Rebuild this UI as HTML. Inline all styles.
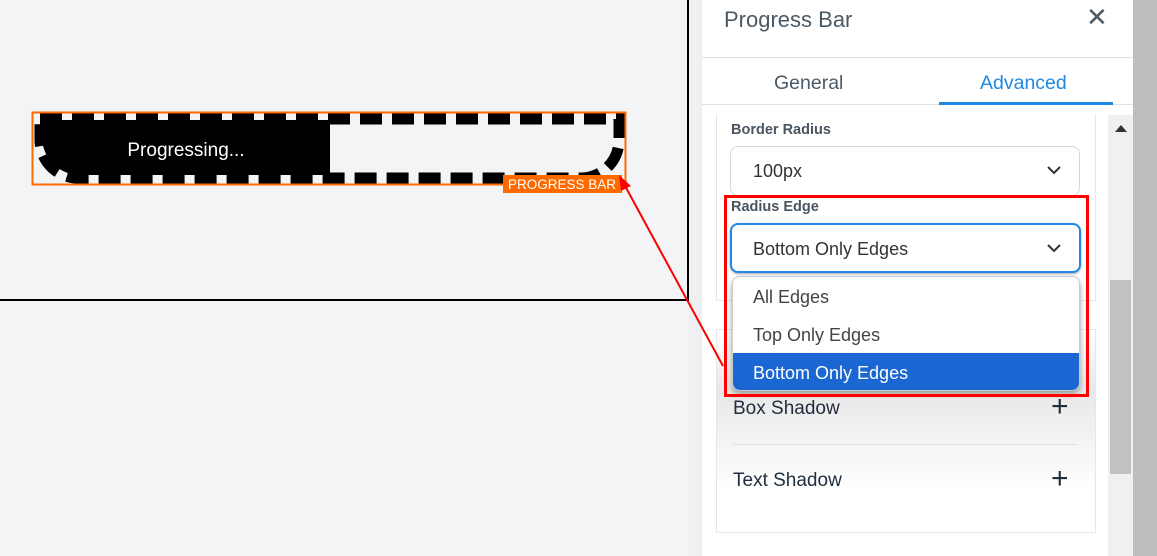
<!DOCTYPE html><html><head><style>
body{margin:0;width:1157px;height:556px;position:relative;overflow:hidden;background:#f3f4f6;font-family:"Liberation Sans",sans-serif}
.a{position:absolute}
</style></head><body>
<div class="a" style="left:687px;top:0;width:2px;height:301px;background:#000"></div>
<div class="a" style="left:0;top:299px;width:689px;height:2px;background:#000"></div>
<svg class="a" style="left:0;top:0" width="689" height="300">
<path d="M42 120 H330 V175 H80 A38 38 0 0 1 42 137 Z" fill="#000"/>
<path d="M330 120 H618 V140 A38 38 0 0 1 580 178 H330Z" fill="#f3f4f6"/>
<path d="M40 119 H619 V140 A38 38 0 0 1 581 178 H78 A38 38 0 0 1 40 140 Z" fill="none" stroke="#000" stroke-width="11" stroke-dasharray="22 10"/>
<rect x="32.5" y="112.5" width="593" height="72" fill="none" stroke="#ff6a00" stroke-width="2"/>
<text x="186" y="156" fill="#fff" font-size="19" text-anchor="middle">Progressing...</text>
<rect x="503" y="175" width="119" height="18" fill="#ff6a00"/>
<text x="562" y="189" fill="#fff" font-size="13.5" text-anchor="middle">PROGRESS BAR</text>
</svg>
<div class="a" style="left:689px;top:0;width:13px;height:556px;background:#eef0f2"></div>
<div class="a" style="left:702px;top:0;width:431px;height:556px;background:#fff"></div>
<div class="a" style="left:1133px;top:0;width:24px;height:556px;background:#bdbdbd"></div>
<div class="a" style="left:724px;top:7px;font-size:22px;color:#4a5a66">Progress Bar</div>
<div class="a" style="left:1086px;top:2px;font-size:26px;color:#4a5a66">✕</div>
<div class="a" style="left:702px;top:57px;width:431px;height:1px;background:#dde2e6"></div>
<div class="a" style="left:774px;top:72px;font-size:19.5px;color:#4a5a66">General</div>
<div class="a" style="left:980px;top:72px;font-size:19.5px;color:#1e88e5">Advanced</div>
<div class="a" style="left:702px;top:104px;width:431px;height:1px;background:#dde2e6"></div>
<div class="a" style="left:939px;top:102px;width:174px;height:3px;background:#1e88e5"></div>
<div class="a" style="left:1108px;top:115px;width:25px;height:441px;background:#f0f0f0"></div>
<div class="a" style="left:1110px;top:280px;width:21px;height:194px;background:#c1c1c1"></div>
<div class="a" style="left:1115px;top:125px;width:0;height:0;border-left:6px solid transparent;border-right:6px solid transparent;border-bottom:7px solid #333"></div>
<div class="a" style="left:716px;top:114px;width:378px;height:186px;border:1px solid #e3e6ea;border-top:none"></div>
<div class="a" style="left:731px;top:122px;font-size:14.5px;color:#4a5560;font-weight:bold">Border Radius</div>
<div class="a" style="left:730px;top:146px;width:348px;height:48px;border:1px solid #d5d9de;border-radius:8px"></div>
<div class="a" style="left:753px;top:161px;font-size:18px;color:#333">100px</div>
<svg class="a" style="left:1046px;top:165px" width="16" height="10"><path d="M2 2 L8 8 L14 2" stroke="#333" stroke-width="2" fill="none"/></svg>
<div class="a" style="left:731px;top:199px;font-size:14.5px;color:#4a5560;font-weight:bold">Radius Edge</div>
<div class="a" style="left:730px;top:223px;height:50px;border:2px solid #1e88e5;border-radius:8px;box-sizing:border-box;width:351px;box-shadow:0 1px 2px #aaa"></div>
<div class="a" style="left:753px;top:239px;font-size:18px;color:#333">Bottom Only Edges</div>
<svg class="a" style="left:1046px;top:243px" width="16" height="10"><path d="M2 2 L8 8 L14 2" stroke="#333" stroke-width="2" fill="none"/></svg>
<div class="a" style="left:716px;top:329px;width:378px;height:202px;border:1px solid #e3e6ea;background:linear-gradient(#fff,#e8e8e8 30%,#fff 80%)"></div>
<div class="a" style="left:733px;top:398px;font-size:19px;color:#1f2d3d">Box Shadow</div>
<div class="a" style="left:1051px;top:390px;font-size:30px;color:#1f2d3d">+</div>
<div class="a" style="left:733px;top:444px;width:344px;height:1px;background:#dde2e6"></div>
<div class="a" style="left:733px;top:470px;font-size:19px;color:#1f2d3d">Text Shadow</div>
<div class="a" style="left:1051px;top:462px;font-size:30px;color:#1f2d3d">+</div>
<div class="a" style="left:732px;top:276px;width:346px;height:113px;background:#fff;border:1px solid #ccc;border-radius:8px;overflow:hidden;box-shadow:0 3px 6px #999">
<div style="position:absolute;left:20px;top:10px;font-size:18px;color:#444">All Edges</div>
<div style="position:absolute;left:20px;top:48px;font-size:18px;color:#444">Top Only Edges</div>
<div style="position:absolute;left:0;top:76px;width:346px;height:37px;background:#1a66d2"></div>
<div style="position:absolute;left:20px;top:86px;font-size:18px;color:#fff">Bottom Only Edges</div>
</div>
<div class="a" style="left:724px;top:195px;width:359px;height:196px;border:3px solid #f00"></div>
<svg class="a" style="left:0;top:0" width="1157" height="556">
<line x1="723" y1="366" x2="624" y2="184" stroke="#f00" stroke-width="2"/>
<path d="M619 175 L631 186 L621 191 Z" fill="#f00"/>
</svg>
</body></html>
